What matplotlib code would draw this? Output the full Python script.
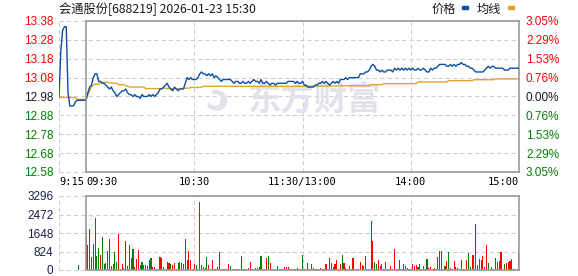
import numpy as np
import matplotlib
matplotlib.use('Agg')
import matplotlib.pyplot as plt
from matplotlib.patches import Rectangle

plt.rcParams['font.family'] = ['Liberation Sans', 'DejaVu Sans']

W, H = 578, 276

title = '会通股份[688219] 2026-01-23 15:30'
price_ticks = [13.38, 13.28, 13.18, 13.08, 12.98, 12.88, 12.78, 12.68, 12.58]
pct_labels = ['3.05%', '2.29%', '1.53%', '0.76%', '0.00%', '0.76%', '1.53%', '2.29%', '3.05%']
vol_ticks = [0, 824, 1648, 2472, 3296]
time_ticks = [-15, 0, 60, 120, 180, 240]
time_labels = ['9:15', '09:30', '10:30', '11:30/13:00', '14:00', '15:00']

# 9:15-9:29 auction phase, minutes -15..-1
pre_price = [12.98, 13.22, 13.33, 13.35, 13.35, 13.00, 12.93, 12.93, 12.93, 12.95,
             12.96, 12.96, 12.96, 12.96, 12.96]
pre_avg = [12.975] * 10 + [12.965] * 5

# 9:30-15:00, one value per trading minute (0..240)
price = [
    12.96, 13.00, 13.03, 13.04, 13.08, 13.10, 13.10, 13.06, 13.06, 13.05,
    13.05, 13.04, 13.03, 13.02, 13.03, 13.01, 13.00, 12.98, 12.99, 13.00,
    13.01, 13.01, 13.02, 13.00, 12.99, 12.99, 12.98, 12.99, 12.98, 12.98,
    12.97, 12.99, 12.98, 12.98, 12.98, 12.99, 12.98, 12.99, 12.98, 12.99,
    13.00, 13.02, 13.02, 13.03, 13.04, 13.05, 13.03, 13.02, 13.01, 13.03,
    13.02, 13.01, 13.02, 13.02, 13.02, 13.05, 13.08, 13.07, 13.08, 13.07,
    13.07, 13.07, 13.08, 13.10, 13.11, 13.10, 13.10, 13.09, 13.10, 13.09,
    13.10, 13.08, 13.09, 13.08, 13.07, 13.06, 13.07, 13.07, 13.07, 13.07,
    13.07, 13.06, 13.05, 13.06, 13.06, 13.05, 13.05, 13.06, 13.05, 13.05,
    13.06, 13.05, 13.06, 13.07, 13.06, 13.06, 13.05, 13.07, 13.05, 13.05,
    13.06, 13.05, 13.04, 13.05, 13.05, 13.04, 13.05, 13.05, 13.05, 13.05,
    13.05, 13.05, 13.06, 13.06, 13.06, 13.06, 13.05, 13.06, 13.05, 13.05,
    13.06, 13.04, 13.04, 13.03, 13.03, 13.03, 13.03, 13.04, 13.04, 13.05,
    13.05, 13.06, 13.05, 13.06, 13.05, 13.04, 13.05, 13.06, 13.05, 13.06,
    13.05, 13.07, 13.07, 13.07, 13.08, 13.07, 13.08, 13.08, 13.08, 13.08,
    13.08, 13.08, 13.10, 13.10, 13.10, 13.11, 13.11, 13.12, 13.14, 13.15,
    13.14, 13.12, 13.12, 13.11, 13.12, 13.11, 13.11, 13.12, 13.12, 13.12,
    13.11, 13.13, 13.12, 13.13, 13.12, 13.13, 13.12, 13.13, 13.12, 13.13,
    13.12, 13.13, 13.12, 13.12, 13.13, 13.12, 13.12, 13.13, 13.12, 13.11,
    13.11, 13.13, 13.12, 13.13, 13.13, 13.14, 13.15, 13.15, 13.15, 13.15,
    13.14, 13.14, 13.15, 13.14, 13.15, 13.14, 13.15, 13.15, 13.16, 13.15,
    13.15, 13.14, 13.14, 13.13, 13.13, 13.12, 13.11, 13.11, 13.11, 13.11,
    13.11, 13.12, 13.13, 13.14, 13.13, 13.14, 13.14, 13.13, 13.13, 13.13,
    13.13, 13.13, 13.12, 13.12, 13.12, 13.13, 13.13, 13.13, 13.13, 13.13,
    13.13,
]
avg_price = ([12.965, 12.99, 13.01, 13.03, 13.04] + [13.045] * 3 + [13.055] * 5
             + [13.052] * 2 + [13.05] * 3 + [13.043] * 4 + [13.036] * 2
             + [13.03] * 9 + [13.022] * 10 + [13.024] * 2 + [13.022] * 9
             + [13.024] * 4 + [13.028] * 7 + [13.034] * 60 + [13.035] * 15
             + [13.037] * 18 + [13.043] * 7 + [13.048] * 19 + [13.057] * 17
             + [13.064] * 14 + [13.069] * 12 + [13.073] * 14)

auction_minute = -4
auction_volume = 230

volume = [
    1782, 1114, 1827, 579, 1158, 2317, 624, 980, 668, 1470,
    267, 312, 846, 1381, 178, 267, 802, 356, 1604, 45,
    267, 89, 1292, 178, 1114, 535, 935, 134, 490, 891,
    223, 356, 223, 223, 178, 445, 535, 134, 134, 45,
    45, 579, 535, 134, 45, 356, 312, 267, 223, 312,
    45, 312, 356, 312, 267, 1381, 445, 846, 445, 45,
    267, 223, 45, 3029, 223, 134, 89, 579, 223,
    45, 445, 45, 45, 134, 802, 45, 45, 45, 45,
    267, 178, 45, 45, 45, 45, 45, 624, 45, 45,
    45, 89, 356, 45, 45, 89, 89, 134, 624, 45,
    45, 535, 624, 312, 45, 45, 45, 178, 45, 45,
    45, 134, 134, 134, 45, 45, 45, 45, 89, 45,
    45, 668, 45, 45, 312, 45, 267, 89, 45, 45,
    45, 89, 45, 45, 267, 45, 535, 312, 134, 267,
    445, 45, 267, 668, 312, 89, 45, 178, 45, 535,
    45, 45, 45, 356, 223, 178,
    624, 45, 45, 2183, 1292, 356, 267, 445, 178, 267,
    45, 356, 45, 45, 178, 45, 935, 45, 45, 445,
    45, 267, 178, 89, 45, 45, 267, 178, 223, 134,
    267, 45, 178, 45, 490, 89, 134, 45, 89, 45,
    579, 846, 846, 45, 178, 401, 802, 89, 45, 401,
    134, 89, 45, 445, 45, 45, 445, 757, 134, 668,
    668, 2049, 223, 490, 445, 624, 134, 1114, 312, 45,
    134, 45, 535, 356, 401, 802, 45, 267, 312, 356,
    401, 490, 45, 45, 45, 846,
]
# u = up minute (red), d = down minute (green)
vol_dir = ('uuuuuuddud' 'duduuudduu' 'udduudduuu' 'dduuuuduuu' 'duuuududuu'
           'uduuuuduud' 'uduuududu'
           'uuuddduuuu' 'ududuuuddu' 'uuuuuduudu' 'uuduuduudd' 'uuuuuuudud'
           'udddduuuud' 'uudduuduuu' 'uuuduuduuu' 'uuuuuu'
           'uuuuudduud' 'uuuduuuudu' 'duududuuud' 'uududuuuuu' 'uuuudududu'
           'uuuudduddu' 'ddduuuuudu' 'duduuuuduu' 'uuuuuu')

RED = '#ff0000'
GREEN = '#008000'
BLUE = '#0c4ea2'
ORANGE = '#e2a52a'
BOX = '#999999'
GRID = '#cccccc'
DASH = (0, (4, 3))


def px_rect(x0, y0, x1, y1):
    return [x0 / W, 1 - y1 / H, (x1 - x0) / W, (y1 - y0) / H]


fig = plt.figure(figsize=(W / 100, H / 100), dpi=100)

# ---- price panel
ax = fig.add_axes(px_rect(59, 21, 519, 172))
ax.set_xlim(-15, 240)
ax.set_ylim(price_ticks[-1], price_ticks[0])

for v in price_ticks:
    ax.axhline(v, color=GRID, lw=0.75, ls=DASH, zorder=0, clip_on=False)
for t in [-15, 60, 120, 180]:
    ax.axvline(t, color=GRID, lw=0.75, ls=DASH, zorder=0, clip_on=False)

# watermark
ax.text(0.555, 0.47, '东方财富', transform=ax.transAxes, fontsize=24, fontweight='bold',
        family=['Noto Sans CJK SC'], color='#e2e2ea', ha='center', va='center', zorder=1)
ax.text(0.345, 0.47, 'ↄ', transform=ax.transAxes, fontsize=26, fontweight='bold',
        family=['DejaVu Sans'], color='#e2e2ea', ha='center', va='center', zorder=1,
        rotation=-20)

t_all = np.arange(-len(pre_price), len(price))
ax.plot(t_all, pre_avg + avg_price, color=ORANGE, lw=1.0, zorder=2)
ax.plot(t_all, pre_price + price, color=BLUE, lw=1.0, zorder=3)

ax.spines['left'].set_visible(False)
for side in ['top', 'bottom']:
    ax.spines[side].set_bounds(0, 240)
for side in ['top', 'bottom', 'right']:
    ax.spines[side].set_color(BOX)
    ax.spines[side].set_linewidth(1.2)
ax.axvline(0, color=BOX, lw=1.2, zorder=4)

ax.set_yticks(price_ticks)
ax.set_yticklabels([f'{v:.2f}' for v in price_ticks])
ax.tick_params(axis='y', length=0, pad=4, labelsize=8.5)
for lbl, v in zip(ax.get_yticklabels(), price_ticks):
    lbl.set_color(RED if v > 12.98 + 1e-9 else (GREEN if v < 12.98 - 1e-9 else '#1a1a1a'))

ax.set_xticks(time_ticks)
ax.set_xticklabels(time_labels, family='DejaVu Sans Mono', fontsize=7.5)
ax.tick_params(axis='x', length=0, pad=3.5)
for lbl, ha in zip(ax.get_xticklabels(), ['left', 'left', 'center', 'center', 'center', 'right']):
    lbl.set_ha(ha)

ax2 = ax.twinx()
ax2.set_ylim(ax.get_ylim())
ax2.set_yticks(price_ticks)
ax2.set_yticklabels(pct_labels)
ax2.tick_params(axis='y', length=0, pad=5, labelsize=8.5)
for lbl, v in zip(ax2.get_yticklabels(), price_ticks):
    lbl.set_color(RED if v > 12.98 + 1e-9 else (GREEN if v < 12.98 - 1e-9 else '#1a1a1a'))
for s in ax2.spines.values():
    s.set_visible(False)

# ---- volume panel
axv = fig.add_axes(px_rect(59, 196, 519, 270))
axv.set_xlim(-15, 240)
axv.set_ylim(0, vol_ticks[-1])
for v in vol_ticks:
    axv.axhline(v, color=GRID, lw=0.75, ls=DASH, zorder=0, clip_on=False)
for t in [-15, 60, 120, 180]:
    axv.axvline(t, color=GRID, lw=0.75, ls=DASH, zorder=0, clip_on=False)

bar_colors = [RED if d == 'u' else GREEN for d in vol_dir]
axv.bar(np.arange(len(volume)), volume, width=0.6, color=bar_colors[:len(volume)], zorder=2)
axv.bar([auction_minute], [auction_volume], width=0.6, color=GREEN, zorder=2)

axv.spines['left'].set_visible(False)
for side in ['top', 'bottom']:
    axv.spines[side].set_bounds(0, 240)
for side in ['top', 'bottom', 'right']:
    axv.spines[side].set_color(BOX)
    axv.spines[side].set_linewidth(1.2)
axv.axvline(0, color=BOX, lw=1.2, zorder=4)

axv.set_yticks(vol_ticks)
axv.set_yticklabels([str(v) for v in vol_ticks], color='#1c2040')
axv.tick_params(axis='y', length=0, pad=4, labelsize=8.5)
axv.set_xticks([])

# ---- title and legend
fig.text(59 / W, 1 - 9 / H, title, family=['Noto Sans CJK SC', 'DejaVu Sans'],
         fontsize=8.8, va='center', ha='left', color='#1a1a1a')
fig.text(432 / W, 1 - 9 / H, '价格', family=['Noto Sans CJK SC'], fontsize=8.8,
         va='center', ha='left', color='#1a1a1a')
fig.text(477 / W, 1 - 9 / H, '均线', family=['Noto Sans CJK SC'], fontsize=8.8,
         va='center', ha='left', color='#1a1a1a')
fig.patches.append(Rectangle((462 / W, 1 - 8.5 / H), 6 / W, 2.5 / H, color=BLUE,
                             transform=fig.transFigure, figure=fig))
fig.patches.append(Rectangle((508 / W, 1 - 8.5 / H), 6 / W, 2.5 / H, color=ORANGE,
                             transform=fig.transFigure, figure=fig))

fig.savefig('out.png', dpi=100)
